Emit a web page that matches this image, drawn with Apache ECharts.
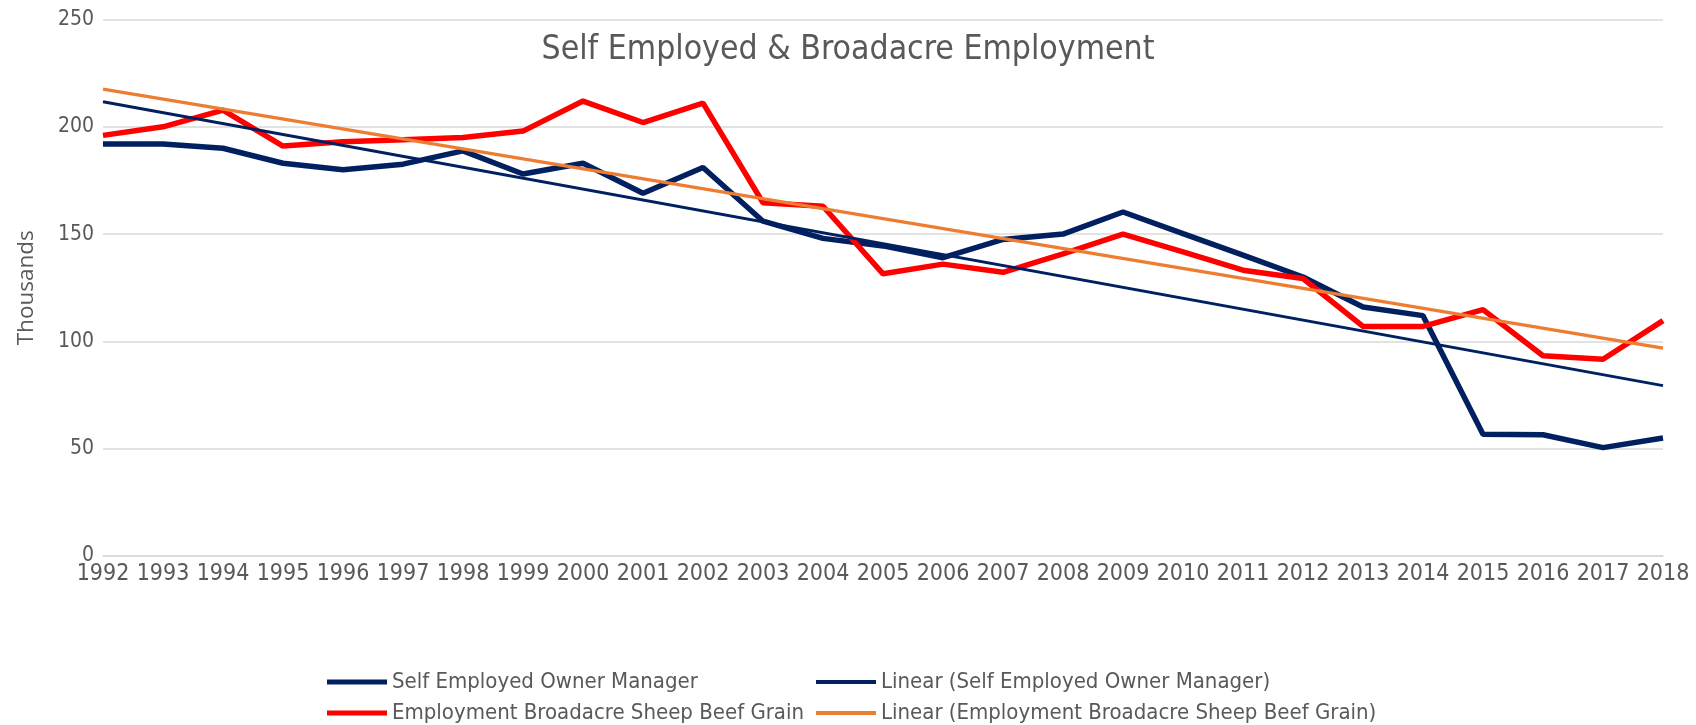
<!DOCTYPE html>
<html>
<head>
<meta charset="utf-8">
<script src="https://cdn.jsdelivr.net/npm/echarts@6/dist/echarts.min.js"></script>
<style>
html,body{margin:0;padding:0;background:#fff;}
#chart{width:1696px;height:725px;}
</style>
</head>
<body>
<div id="chart"></div>
<script>
const years = ['1992','1993','1994','1995','1996','1997','1998','1999','2000','2001','2002','2003','2004','2005','2006','2007','2008','2009','2010','2011','2012','2013','2014','2015','2016','2017','2018'];
const selfEmployed = [192,192,190,183,180,182.6,188.8,178,183,169,181,156,148,144.5,139,147.5,150,160.3,150.2,140.2,130,116,112,56.7,56.5,50.5,55];
const broadacre = [196,200,207.8,191,193,194,195,198,212,202,211,164.6,163,131.5,136,132.2,140.8,150,141.7,133.2,129.3,107,107,114.8,93.3,91.7,109.7];
const trendSelf = [['1992',211.7],['2018',79.4]];
const trendBroad = [['1992',217.6],['2018',96.9]];
const yTicks = [0,50,100,150,200,250];

const names = ['Self Employed Owner Manager','Employment Broadacre Sheep Beef Grain','Linear (Self Employed Owner Manager)','Linear (Employment Broadacre Sheep Beef Grain)'];
const FONT = "'DejaVu Sans Condensed','Liberation Sans Narrow',sans-serif";
function leg(name, left, top, h){
  return {
    left:left, top:top, itemWidth:60, itemHeight:h, icon:'rect', itemGap:0,
    textStyle:{fontFamily:FONT,fontSize:22,color:'#595959'},
    data:[name]
  };
}
const chart = echarts.init(document.getElementById('chart'));
chart.setOption({
  animation:false,
  backgroundColor:'#ffffff',
  title:{
    text:'Self Employed & Broadacre Employment',
    left:'center', top:28,
    textStyle:{fontFamily:FONT,fontSize:33.5,fontWeight:'normal',color:'#595959'}
  },
  legend:[
    leg(names[0],322,666,5),
    leg(names[1],322,697,5),
    leg(names[2],811,666,4),
    leg(names[3],811,697,4)
  ],
  grid:{left:103,right:33,top:19.5,bottom:169,containLabel:false},
  xAxis:{
    type:'category', data:years, boundaryGap:false,
    axisLine:{lineStyle:{color:'#d9d9d9',width:1.5}},
    axisTick:{show:false},
    axisLabel:{fontFamily:FONT,fontSize:23,color:'#595959',margin:7,interval:0}
  },
  yAxis:{
    type:'value', min:yTicks[0], max:yTicks[yTicks.length-1], interval:50,
    name:'Thousands', nameLocation:'middle', nameGap:65,
    nameTextStyle:{fontFamily:"'Open Sans',sans-serif",fontSize:22.5,color:'#595959'},
    axisLine:{show:false}, axisTick:{show:false},
    axisLabel:{fontFamily:FONT,fontSize:21,color:'#595959',margin:9},
    splitLine:{lineStyle:{color:'#d9d9d9',width:1.5}}
  },
  series:[
    {name:names[0],type:'line',data:selfEmployed,symbol:'none',lineStyle:{color:'#002060',width:5.5},itemStyle:{color:'#002060'}},
    {name:names[1],type:'line',data:broadacre,symbol:'none',lineStyle:{color:'#ff0000',width:5.5},itemStyle:{color:'#ff0000'}},
    {name:names[2],type:'line',data:trendSelf,symbol:'none',lineStyle:{color:'#002060',width:3},itemStyle:{color:'#002060'}},
    {name:names[3],type:'line',data:trendBroad,symbol:'none',lineStyle:{color:'#ed7d31',width:3.3},itemStyle:{color:'#ed7d31'}}
  ]
});
</script>
</body>
</html>
